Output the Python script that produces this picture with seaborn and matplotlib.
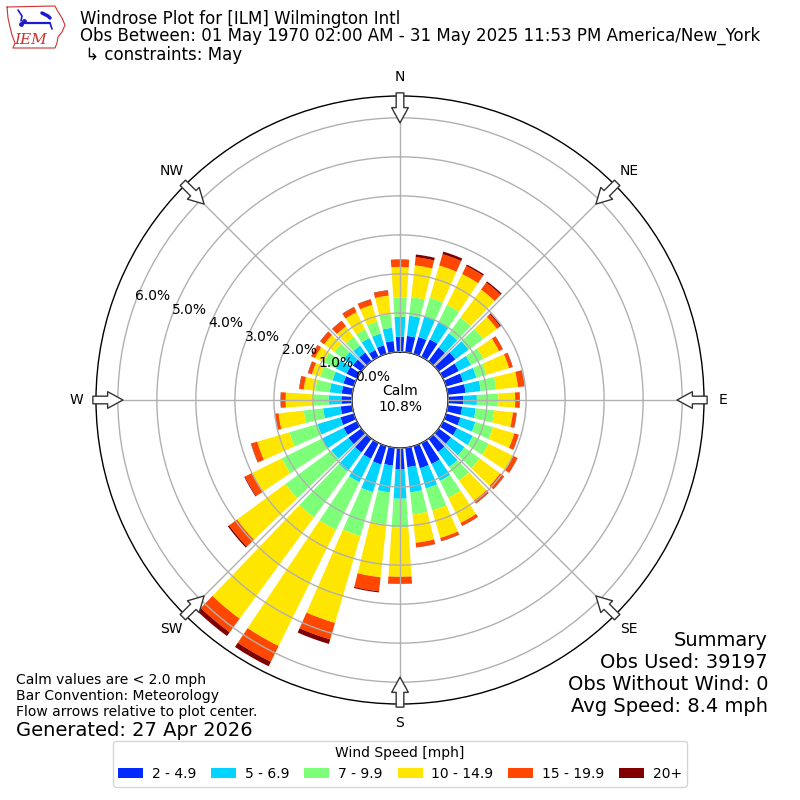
import numpy as np
import matplotlib
matplotlib.use("Agg")
import matplotlib.pyplot as plt
import seaborn as sns

# wind direction bins (degrees, meteorological, bin centres)
directions = np.arange(0, 360, 10)

# cumulative frequency [%] at the outer edge of each speed bin, per direction
cum_2_5 = [0.39, 0.42, 0.45, 0.50, 0.44, 0.53, 0.45, 0.45, 0.46, 0.39, 0.37, 0.38,
           0.40, 0.39, 0.42, 0.60, 0.59, 0.50, 0.55, 0.46, 0.49, 0.45, 0.44, 0.41,
           0.38, 0.36, 0.30, 0.27, 0.27, 0.28, 0.30, 0.27, 0.28, 0.20, 0.23, 0.29]
cum_5_7 = [0.90, 0.94, 1.00, 0.99, 0.89, 0.95, 0.80, 0.81, 0.85, 0.74, 0.72, 0.78,
           0.85, 0.82, 0.90, 1.08, 1.13, 1.15, 1.30, 1.15, 1.23, 1.12, 1.04, 0.95,
           1.00, 0.97, 0.75, 0.60, 0.58, 0.57, 0.60, 0.55, 0.50, 0.54, 0.54, 0.63]
cum_7_10 = [1.39, 1.42, 1.50, 1.49, 1.39, 1.41, 1.15, 1.08, 1.25, 1.29, 1.20, 1.25,
            1.30, 1.30, 1.33, 1.56, 1.72, 1.72, 2.03, 1.98, 2.40, 2.48, 2.50, 2.41,
            2.15, 1.72, 1.25, 1.00, 0.95, 0.90, 0.95, 0.85, 0.78, 0.79, 0.86, 0.98]
cum_10_15 = [2.18, 2.24, 2.36, 2.37, 2.28, 1.85, 1.60, 1.68, 1.81, 1.72, 1.68, 1.82,
             2.00, 1.95, 1.97, 2.28, 2.45, 2.45, 3.30, 3.34, 4.72, 5.80, 5.72, 3.95,
             3.00, 2.58, 1.90, 1.70, 1.25, 1.12, 1.20, 1.18, 1.11, 1.28, 1.31, 1.46]
cum_15_20 = [2.36, 2.45, 2.66, 2.60, 2.50, 1.95, 1.70, 1.77, 1.97, 1.83, 1.77, 1.93,
             2.12, 2.07, 2.05, 2.36, 2.53, 2.56, 3.47, 3.70, 5.16, 6.25, 6.15, 4.20,
             3.20, 2.74, 1.98, 1.82, 1.36, 1.22, 1.30, 1.30, 1.28, 1.42, 1.45, 1.59]
cum_20p = [2.37, 2.52, 2.73, 2.64, 2.54, 1.98, 1.71, 1.78, 1.98, 1.84, 1.78, 1.94,
           2.13, 2.08, 2.06, 2.37, 2.54, 2.57, 3.48, 3.73, 5.28, 6.38, 6.27, 4.24,
           3.22, 2.75, 1.99, 1.83, 1.37, 1.23, 1.31, 1.31, 1.29, 1.43, 1.46, 1.60]

speed_labels = ["2 - 4.9", "5 - 6.9", "7 - 9.9", "10 - 14.9", "15 - 19.9", "20+"]
compass = ["N", "NE", "E", "SE", "S", "SW", "W", "NW"]
ring_values = [0, 1, 2, 3, 4, 5, 6]
calm_pct = 10.8

sns.set_style("white")
plt.rcParams["font.family"] = ["DejaVu Sans"]
plt.rcParams["text.color"] = "black"
plt.rcParams["xtick.color"] = "black"
plt.rcParams["ytick.color"] = "black"
palette = sns.color_palette(["#002aff", "#00d4ff", "#7dff7a", "#ffe600", "#ff4700", "#800000"])

fig = plt.figure(figsize=(8, 8), dpi=100)
ax = fig.add_axes([0.12, 0.12, 0.76, 0.76], projection="polar")
ax.set_theta_zero_location("N")
ax.set_theta_direction(-1)

theta = np.deg2rad(directions)
bottom = np.zeros(len(directions))
for cum, label, color in zip([cum_2_5, cum_5_7, cum_7_10, cum_10_15, cum_15_20, cum_20p],
                             speed_labels, palette):
    top = np.array(cum)
    ax.bar(theta, top - bottom, width=np.deg2rad(7.5), bottom=bottom,
           color=color, linewidth=0, label=label, zorder=1)
    bottom = top

ax.set_ylim(0, 6.56)
ax.set_rorigin(-1.231)
ax.set_axisbelow(False)
ax.grid(True, color="#b0b0b0", linewidth=1.0)

ax.set_thetagrids(range(0, 360, 45), compass)
ax.tick_params(axis="x", pad=3.5, labelsize=10)
ax.set_rticks(ring_values)
ax.set_yticklabels([f"{v:.1f}%" for v in ring_values])
ax.set_rlabel_position(290)
ax.tick_params(axis="y", labelsize=10)
for name in ["polar", "inner"]:
    ax.spines[name].set_color("black")
    ax.spines[name].set_linewidth(1.0)

for ang in range(0, 360, 45):
    t = np.deg2rad(ang)
    ax.annotate("", xy=(t, 5.87), xytext=(t, 6.64), annotation_clip=False, zorder=5,
                arrowprops=dict(facecolor="white", edgecolor="#333333", width=5.5,
                                headwidth=12, headlength=11, shrink=0, lw=1))

ax.text(0.5, 0.502, f"Calm\n{calm_pct:.1f}%", transform=ax.transAxes,
        ha="center", va="center", fontsize=10)

# header
fig.text(0.1, 1 - 19 / 800, "Windrose Plot for [ILM] Wilmington Intl", fontsize=12, va="center")
fig.text(0.1, 1 - 36 / 800,
         "Obs Between: 01 May 1970 02:00 AM - 31 May 2025 11:53 PM America/New_York",
         fontsize=12, va="center")
fig.text(0.1, 1 - 55 / 800, " \u21b3 constraints: May", fontsize=12, va="center")

# logo
logo = fig.add_axes([4 / 800, 1 - 52 / 800, 68 / 800, 50 / 800])
logo.set_xlim(4, 72)
logo.set_ylim(52, 2)
logo.axis("off")
iowa_x = [7, 55, 57, 62, 65, 62, 58, 57, 55, 13, 15, 12, 10, 8, 7]
iowa_y = [7, 6, 10, 18, 25, 32, 37, 43, 48, 48, 43, 35, 27, 18, 7]
logo.plot(iowa_x, iowa_y, color="#d03030", lw=0.8)
logo.text(31, 40, "IEM", color="#d03030", fontsize=11, fontstyle="italic",
          family="DejaVu Serif", ha="center", va="center")
logo.plot([23, 50], [23, 23], color="#1a1ad0", lw=1.6)
logo.plot([18, 22, 21], [10, 16, 21], color="#1a1ad0", lw=1.2)
logo.plot([42, 48, 50], [13, 16, 18], color="#1a1ad0", lw=2.5)
logo.plot([50, 52], [23, 29], color="#1a1ad0", lw=1.2)
logo.scatter([21, 24], [24, 21], s=6, color="#1a1ad0")

# footnotes
fig.text(0.02, 1 - 680 / 800, "Calm values are < 2.0 mph", fontsize=10, va="center")
fig.text(0.02, 1 - 696 / 800, "Bar Convention: Meteorology", fontsize=10, va="center")
fig.text(0.02, 1 - 712 / 800, "Flow arrows relative to plot center.", fontsize=10, va="center")
fig.text(0.02, 1 - 730 / 800, "Generated: 27 Apr 2026", fontsize=14, va="center")

summary = ["Summary", "Obs Used: 39197", "Obs Without Wind: 0", "Avg Speed: 8.4 mph"]
for i, line in enumerate(summary):
    fig.text(0.96, 1 - (640 + 22 * i) / 800, line, fontsize=14, ha="right", va="center")

handles, labels = ax.get_legend_handles_labels()
fig.legend(handles, labels, loc="lower center", bbox_to_anchor=(0.5, 0.008), ncol=6,
           title="Wind Speed [mph]", fontsize=10, title_fontsize=10, frameon=True,
           edgecolor="0.8", handlelength=1.8, handletextpad=0.6, columnspacing=1.1)

fig.savefig("out.png", dpi=100)
